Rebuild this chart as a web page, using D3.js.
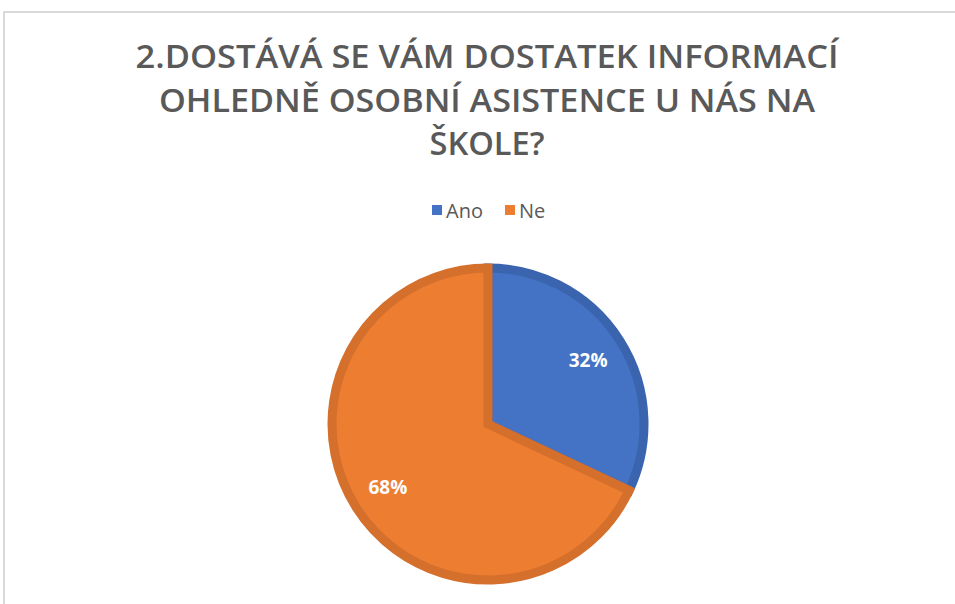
<!DOCTYPE html>
<html>
<head>
<meta charset="utf-8">
<script src="https://cdn.jsdelivr.net/npm/d3@7"></script>
<style>
  body { margin: 0; background: #fff; }
  svg { display: block; }
</style>
</head>
<body>
<div id="chart"></div>
<script>
var titleLines = ["2.DOSTÁVÁ SE VÁM DOSTATEK INFORMACÍ", "OHLEDNĚ OSOBNÍ ASISTENCE U NÁS NA", "ŠKOLE?"];
var categories = ["Ano", "Ne"];
var values = [32, 68];
var fills = ["#4472C4", "#ED7D31"];
var strokes = ["#3A64AE", "#D46F2C"];

var width = 955, height = 604;

var svg = d3.select("#chart").append("svg")
    .attr("width", width)
    .attr("height", height);

// chart area frame
svg.append("path")
    .attr("d", "M4,604 V12 H955")
    .attr("fill", "none")
    .attr("stroke", "#d9d9d9")
    .attr("stroke-width", 2);

// title
var titleWidths = [703, 656, 115];
svg.selectAll(".title")
    .data(titleLines)
    .enter().append("text")
    .attr("class", "title")
    .attr("x", 487)
    .attr("y", function(d, i) { return 68 + i * 43.5; })
    .attr("text-anchor", "middle")
    .attr("textLength", function(d, i) { return titleWidths[i]; })
    .attr("lengthAdjust", "spacingAndGlyphs")
    .style("font-family", "'Open Sans', 'DejaVu Sans', sans-serif")
    .style("font-weight", 600)
    .style("font-size", "33px")
    .style("fill", "#595959")
    .text(function(d) { return d; });

// legend
var legendX = d3.scaleOrdinal().domain(categories).range([432, 505]);
var legend = svg.selectAll(".legend")
    .data(categories)
    .enter().append("g")
    .attr("class", "legend")
    .attr("transform", function(d) { return "translate(" + legendX(d) + ",205)"; });

legend.append("rect")
    .attr("width", 10)
    .attr("height", 10)
    .attr("fill", function(d, i) { return fills[i]; });

legend.append("text")
    .attr("x", 14)
    .attr("y", 13)
    .style("font-family", "'Open Sans', sans-serif")
    .style("font-size", "20px")
    .style("fill", "#595959")
    .text(function(d) { return d; });

// pie
var cx = 488, cy = 424, r = 156;
var pie = d3.pie().sort(null).value(function(d) { return d; });
var arc = d3.arc().innerRadius(0).outerRadius(r);
var labelArc = d3.arc().innerRadius(r * 0.76).outerRadius(r * 0.76);

var g = svg.append("g")
    .attr("transform", "translate(" + cx + "," + cy + ")");

var slices = pie(values);

g.selectAll(".slice")
    .data(slices)
    .enter().append("path")
    .attr("class", "slice")
    .attr("d", arc)
    .attr("fill", function(d, i) { return fills[i]; })
    .attr("stroke", function(d, i) { return strokes[i]; })
    .attr("stroke-width", 9)
    .attr("stroke-linejoin", "miter");

g.selectAll(".slice-label")
    .data(slices)
    .enter().append("text")
    .attr("class", "slice-label")
    .attr("transform", function(d) { return "translate(" + labelArc.centroid(d) + ")"; })
    .attr("text-anchor", "middle")
    .attr("dy", "0.35em")
    .style("font-family", "'Open Sans', sans-serif")
    .style("font-weight", 700)
    .style("font-size", "19px")
    .style("fill", "#fff")
    .text(function(d) { return d.data + "%"; });
</script>
</body>
</html>
